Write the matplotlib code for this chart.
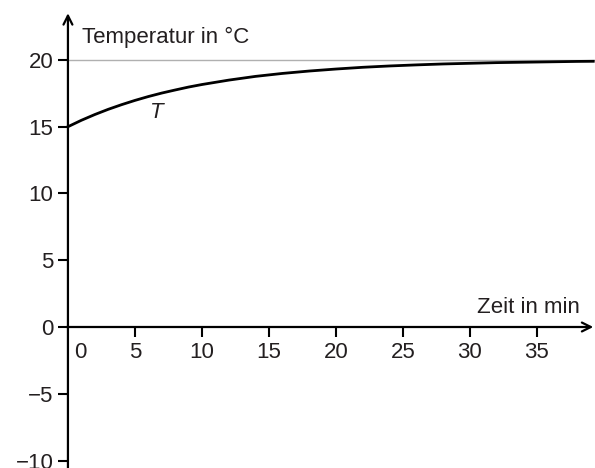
import matplotlib.pyplot as plt
from matplotlib.transforms import ScaledTranslation

# Werte (Zeit in min, Temperatur in °C)
zeit = [0, 1, 2, 3, 4, 5, 6, 7, 8, 9, 10, 12, 14, 16, 18, 20, 22, 24, 26, 28, 30, 32, 34, 36, 38, 39.2]
temp = [15.0, 15.48, 15.91, 16.30, 16.65, 16.97, 17.26, 17.52, 17.75, 17.97, 18.16,
        18.49, 18.77, 18.99, 19.17, 19.32, 19.45, 19.55, 19.63, 19.70, 19.75,
        19.80, 19.83, 19.86, 19.89, 19.90]
grenzwert = 20
xticks = [0, 5, 10, 15, 20, 25, 30, 35]
yticks = [-10, -5, 0, 5, 10, 15, 20]

ink = '#231f20'
fs = 16
plt.rcParams['font.family'] = ['Liberation Sans', 'DejaVu Sans']
plt.rcParams['font.size'] = fs

fig = plt.figure(figsize=(5.95, 4.68), dpi=100)
ax = fig.add_axes([0, 0, 1, 1])
ax.set_xlim(-5.07, 39.33)
ax.set_ylim(-10.56, 24.49)

for s in ['top', 'right']:
    ax.spines[s].set_visible(False)
ax.spines['left'].set_position(('data', 0))
ax.spines['bottom'].set_position(('data', 0))
ax.spines['left'].set_visible(False)
ax.spines['bottom'].set_visible(False)

# Achsen mit Pfeilen
ax.annotate('', xy=(39.2, 0), xytext=(-0.1, 0),
            arrowprops=dict(arrowstyle='->', lw=1.6, color='black', mutation_scale=16,
                            shrinkA=0, shrinkB=0))
ax.annotate('', xy=(0, 23.5), xytext=(0, -10.6),
            arrowprops=dict(arrowstyle='->', lw=1.6, color='black', mutation_scale=16,
                            shrinkA=0, shrinkB=0))

ax.hlines(grenzwert, 0, 39.33, color='#b0b0b0', lw=1.0, zorder=1)
ax.plot(zeit, temp, color='black', lw=2.0, zorder=3)

ax.set_xticks(xticks)
ax.set_xticklabels([str(v) for v in xticks])
ax.set_yticks(yticks)
ax.set_yticklabels([str(v).replace('-', '\u2212') for v in yticks])
ax.tick_params(axis='both', direction='out', length=7, width=1.5, color='black',
               labelcolor=ink, labelsize=fs)
ax.tick_params(axis='x', pad=4)
ax.tick_params(axis='y', pad=3.5)

lab0 = ax.get_xticklabels()[0]
lab0.set_horizontalalignment('left')
lab0.set_transform(lab0.get_transform() + ScaledTranslation(6 / 100, 0, fig.dpi_scale_trans))
ax.get_xaxis().get_major_ticks()[0].tick1line.set_visible(False)

ax.text(1.04, 21.3, 'Temperatur in °C', color=ink, fontsize=fs, va='baseline', ha='left')
ax.text(38.2, 1.05, 'Zeit in min', color=ink, fontsize=fs, va='baseline', ha='right')
ax.text(6.6, 16.1, 'T', color=ink, fontsize=fs, style='italic', ha='center', va='center')

fig.savefig('out.png', dpi=100)
